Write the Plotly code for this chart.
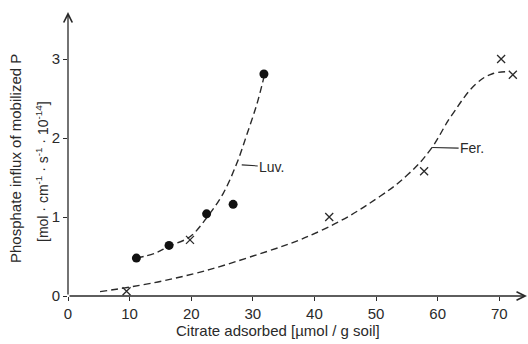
import plotly.graph_objects as go

# --- data ---
luv_x = [11.1, 16.4, 22.5, 26.8, 31.8]
luv_y = [0.48, 0.64, 1.04, 1.16, 2.81]
fer_x = [9.5, 19.8, 42.4, 57.8, 70.3, 72.2]
fer_y = [0.06, 0.71, 1.00, 1.58, 3.00, 2.80]

luv_curve_x = [11.1, 14.1, 16.4, 19.8, 22.6, 25.2, 27.4, 29.1, 30.7, 31.8]
luv_curve_y = [0.48, 0.54, 0.63, 0.75, 1.00, 1.30, 1.68, 2.06, 2.44, 2.77]
fer_curve_x = [5.2, 17.1, 29.0, 41.4, 50.6, 55.2, 58.8, 62.3, 66.3, 68.8, 71.2]
fer_curve_y = [0.055, 0.22, 0.48, 0.84, 1.26, 1.54, 1.85, 2.29, 2.69, 2.81, 2.84]

x_ticks = [0, 10, 20, 30, 40, 50, 60, 70]
y_ticks = [0, 1, 2, 3]

ink = "#2a2a2a"
font = "Liberation Sans"

fig = go.Figure()
fig.add_trace(go.Scatter(x=luv_curve_x, y=luv_curve_y, mode="lines",
                         line=dict(color=ink, width=1.4, dash="7px,4px", shape="spline",
                                   smoothing=1),
                         hoverinfo="skip"))
fig.add_trace(go.Scatter(x=fer_curve_x, y=fer_curve_y, mode="lines",
                         line=dict(color=ink, width=1.4, dash="7px,4px", shape="spline",
                                   smoothing=1.2),
                         hoverinfo="skip"))
fig.add_trace(go.Scatter(x=luv_x, y=luv_y, mode="markers",
                         marker=dict(symbol="circle", size=9, color="#111")))
fig.add_trace(go.Scatter(x=fer_x, y=fer_y, mode="markers",
                         marker=dict(symbol="x-thin", size=8, line=dict(color=ink, width=1.3))))

x_max = 74.5
y_max = 3.595

fig.update_layout(
    width=528, height=344,
    margin=dict(l=68, r=1, t=12, b=48),
    paper_bgcolor="white", plot_bgcolor="white",
    showlegend=False,
    font=dict(family=font, size=15, color=ink),
    xaxis=dict(range=[0, x_max], tickvals=x_ticks, showgrid=False, zeroline=False,
               showline=False, ticks="outside", ticklen=4, tickcolor=ink,
               tickfont=dict(size=15, color=ink)),
    yaxis=dict(range=[0, y_max], tickvals=y_ticks, showgrid=False, zeroline=False,
               showline=False, ticks="outside", ticklen=4, tickcolor=ink,
               tickfont=dict(size=15, color=ink)),
)

# axes with arrowheads
fig.add_annotation(x=x_max, y=0, ax=0, ay=0, xref="x", yref="y", axref="x", ayref="y",
                   showarrow=True, arrowhead=5, arrowsize=1.3, arrowwidth=1.3,
                   arrowcolor=ink, text="", standoff=0)
fig.add_annotation(x=0, y=y_max, ax=0, ay=0, xref="x", yref="y", axref="x", ayref="y",
                   showarrow=True, arrowhead=5, arrowsize=1.3, arrowwidth=1.3,
                   arrowcolor=ink, text="", standoff=0)

# curve labels with leader lines
fig.add_annotation(x=28.2, y=1.66, xref="x", yref="y", text="Luv.", showarrow=True,
                   arrowhead=0, arrowwidth=1.1, arrowcolor=ink, ax=30, ay=2,
                   font=dict(size=14, color=ink), standoff=0)
fig.add_annotation(x=59.1, y=1.88, xref="x", yref="y", text="Fer.", showarrow=True,
                   arrowhead=0, arrowwidth=1.1, arrowcolor=ink, ax=40, ay=1,
                   font=dict(size=14, color=ink), standoff=0)

# axis titles
fig.add_annotation(x=(278 - 68) / 459, y=-(330 - 296) / 284, xref="paper", yref="paper",
                   text="Citrate adsorbed [µmol / g soil]", showarrow=False,
                   xanchor="center", yanchor="middle", font=dict(size=15, color=ink))
fig.add_annotation(x=(15 - 68) / 459, y=(296 - 159) / 284, xref="paper", yref="paper",
                   text="Phosphate influx of mobilized P", showarrow=False, textangle=-90,
                   xanchor="center", yanchor="middle", font=dict(size=15, color=ink))
fig.add_annotation(x=(42 - 68) / 459, y=(296 - 172) / 284, xref="paper", yref="paper",
                   text="[mol · cm<sup>-1</sup> · s<sup>-1</sup> · 10<sup>-14</sup>]",
                   showarrow=False, textangle=-90,
                   xanchor="center", yanchor="middle", font=dict(size=14, color=ink))

fig.write_html("out.html")
